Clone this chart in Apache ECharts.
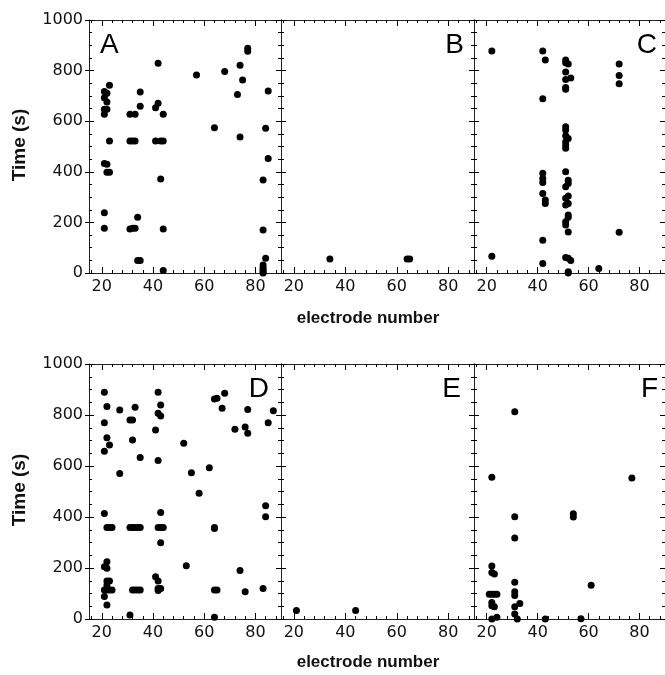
<!DOCTYPE html>
<html>
<head>
<meta charset="utf-8">
<script src="https://cdn.jsdelivr.net/npm/echarts@6/dist/echarts.min.js"></script>
<style>html,body{margin:0;padding:0;background:#fff}#c{width:665px;height:675px}</style>
</head>
<body>
<div id="c"></div>
<script>
// ---- data (electrode number, time in s) ----
const panelA = [
  [23,742],[21,717],[22,710],[21,693],[22,676],[21,647],[22,647],[21,627],
  [23,522],[21,433],[22,430],[22,398],[23,398],[21,238],[21,177],
  [31,627],[33,627],[31,522],[32,522],[33,522],[31,174],[32,177],[33,177],
  [34,220],[35,715],[35,659],[34,49],[35,49],
  [42,829],[41,653],[42,671],[44,627],[41,522],[43,522],[44,522],[43,372],[44,174],[44,10],
  [57,783],[64,574],[68,796],[73,706],[74,821],[75,763],[74,538],[77,888],[77,876],
  [85,719],[84,572],[85,453],[83,368],[83,170],[84,58],[83,32],[83,20],[83,12],[83,5],[83,0]
];
const panelB = [[34,55],[64,55],[65,55]];
const panelC = [
  [22,877],[22,66],[42,877],[43,842],[42,689],[42,394],[42,374],[42,358],[42,314],
  [43,289],[43,275],[42,129],[42,38],
  [51,842],[51,831],[52,826],[51,794],[51,765],[53,771],[51,733],[51,726],
  [51,578],[51,565],[51,542],[52,532],[51,519],[51,506],[51,493],
  [51,400],[52,367],[52,354],[51,341],[52,304],[51,295],[52,275],[51,269],
  [52,229],[52,220],[51,203],[51,190],[52,162],
  [51,61],[52,58],[53,49],[52,5],[52,0],
  [64,18],[72,826],[72,781],[72,748],[72,161]
];
const panelD = [
  [21,889],[22,833],[21,770],[22,711],[23,682],[21,658],[21,414],
  [22,359],[23,359],[24,359],[22,225],[21,205],[22,199],[22,149],[23,149],[22,133],
  [21,114],[22,114],[23,114],[24,114],[21,88],[22,55],
  [27,820],[27,571],[31,780],[32,780],[32,702],[33,830],[35,633],
  [31,359],[32,359],[33,359],[34,359],[35,359],[32,114],[33,114],[34,114],[35,114],[31,16],
  [42,889],[43,839],[42,807],[43,796],[41,741],[42,622],[43,418],
  [42,359],[43,359],[44,359],[43,299],[41,166],[42,149],[42,120],[43,120],[42,112],
  [52,689],[53,209],[55,574],[58,493],[62,593],[64,863],[65,866],
  [64,359],[64,355],[64,114],[65,114],[64,7],[67,826],[68,885],
  [72,744],[76,753],[77,728],[77,822],[74,190],[76,107],
  [83,120],[84,444],[84,401],[85,770],[87,817]
];
const panelE = [[21,33],[44,33]];
const panelF = [
  [31,813],[22,556],[77,553],[31,401],[54,413],[54,400],[31,318],
  [22,208],[22,182],[23,176],[31,144],[61,132],
  [21,97],[22,97],[23,97],[24,97],[31,107],[31,92],
  [22,65],[22,52],[23,48],[33,61],[31,48],[31,20],[24,7],[22,0],[32,0],[43,0],[57,1]
];
const panels = [panelA, panelB, panelC, panelD, panelE, panelF];
const panelLetters = ['A','B','C','D','E','F'];

// ---- axes / ticks ----
const xMin = 15, xMax = 90;
const xLabelStep = 20;   // labelled ticks: 20, 40, 60, 80
const xMinorStep = 4;    // minor ticks: 16, 20, 24, ...
// category positions 15..90 used only to place tick marks on overlay axes
const xSlots = [];
for (let v = xMin; v <= xMax; v++) xSlots.push(String(v));

const gridBoxes = [
  {left: 89,  top: 20,  width: 192, height: 253},
  {left: 281, top: 20,  width: 193, height: 253},
  {left: 474, top: 20,  width: 195, height: 253},
  {left: 89,  top: 364, width: 192, height: 255},
  {left: 281, top: 364, width: 193, height: 255},
  {left: 474, top: 364, width: 195, height: 255}
];

const lineColor = '#222';
const tickColor = '#000';
const majorLen = 6, minorLen = 3;
const tickFont = {fontFamily: 'DejaVu Sans', fontSize: 16, color: '#111'};
const isMajor = (idx, val) => (+val) % xLabelStep === 0;
const isMinor = (idx, val) => (+val) % xMinorStep === 0 && (+val) % xLabelStep !== 0;
const noLine = {show: false, onZero: false};
const tickLine = {color: tickColor, width: 1};

const grid = [], xAxis = [], yAxis = [], series = [];
gridBoxes.forEach((g, i) => {
  grid.push(Object.assign({containLabel: false}, g));
  // data axis (hidden)
  const xDataIdx = xAxis.length;
  xAxis.push({type: 'value', gridIndex: i, min: xMin, max: xMax, show: false,
              axisLine: {onZero: false}, splitLine: {show: false}});
  const catBase = {type: 'category', gridIndex: i, data: xSlots, boundaryGap: false, splitLine: {show: false}};
  ['bottom', 'top'].forEach(pos => {
    // frame line + labels
    xAxis.push(Object.assign({}, catBase, {
      position: pos,
      axisLine: {show: true, onZero: false, lineStyle: {color: lineColor, width: 1}},
      axisTick: {show: false},
      axisLabel: Object.assign({show: pos === 'bottom', margin: 6, interval: isMajor}, tickFont)
    }));
    // inward-pointing ticks: outward ticks drawn from an axis shifted into the plot
    xAxis.push(Object.assign({}, catBase, {
      position: pos, offset: -majorLen,
      axisLine: noLine,
      axisTick: {show: true, inside: false, length: majorLen, interval: isMajor, lineStyle: tickLine},
      axisLabel: {show: false}
    }));
    xAxis.push(Object.assign({}, catBase, {
      position: pos, offset: -minorLen,
      axisLine: noLine,
      axisTick: {show: true, inside: false, length: minorLen, interval: isMinor, lineStyle: tickLine},
      axisLabel: {show: false}
    }));
  });

  const yBase = {type: 'value', gridIndex: i, min: 0, max: 1000, interval: 200, splitLine: {show: false}};
  const yMainIdx = yAxis.length;
  ['left', 'right'].forEach(pos => {
    yAxis.push(Object.assign({}, yBase, {
      position: pos,
      axisLine: {show: true, onZero: false, lineStyle: {color: lineColor, width: 1}},
      axisTick: {show: pos === 'left' && i % 3 === 0, inside: false, length: 4, lineStyle: tickLine},
      axisLabel: Object.assign({show: pos === 'left' && i % 3 === 0, margin: 6, formatter: v => String(v)}, tickFont)
    }));
    yAxis.push(Object.assign({}, yBase, {
      position: pos, offset: -5,
      axisLine: noLine,
      axisTick: {show: true, inside: false, length: 5, lineStyle: tickLine},
      axisLabel: {show: false}
    }));
    yAxis.push(Object.assign({}, yBase, {
      position: pos, offset: -minorLen,
      axisLine: noLine,
      axisTick: {show: false},
      minorTick: {show: true, splitNumber: 4, length: minorLen, lineStyle: tickLine},
      axisLabel: {show: false}
    }));
  });

  series.push({
    type: 'scatter',
    xAxisIndex: xDataIdx,
    yAxisIndex: yMainIdx,
    data: panels[i],
    symbol: 'circle',
    symbolSize: 7,
    itemStyle: {color: '#000', opacity: 1},
    silent: true
  });
});

const letterPos = [
  {x: 100, y: 45, align: 'left'},
  {x: 464, y: 45, align: 'right'},
  {x: 657, y: 45, align: 'right'},
  {x: 269, y: 389, align: 'right'},
  {x: 461, y: 389, align: 'right'},
  {x: 658, y: 389, align: 'right'}
];
const graphic = [];
panelLetters.forEach((t, i) => {
  graphic.push({
    type: 'text', x: letterPos[i].x, y: letterPos[i].y, z: 10,
    style: {text: t, fontFamily: 'Liberation Sans', fontSize: 28, fill: '#000',
            textAlign: letterPos[i].align, textVerticalAlign: 'middle'}
  });
});
[145, 490].forEach(cy => {
  graphic.push({
    type: 'text', x: 20, y: cy, rotation: Math.PI / 2, z: 10,
    style: {text: 'Time (s)', fontFamily: 'Liberation Sans', fontWeight: 'bold', fontSize: 19,
            fill: '#111', textAlign: 'center', textVerticalAlign: 'middle'}
  });
});
[318, 662].forEach(cy => {
  graphic.push({
    type: 'text', x: 368, y: cy, z: 10,
    style: {text: 'electrode number', fontFamily: 'Liberation Sans', fontWeight: 'bold', fontSize: 17,
            fill: '#111', textAlign: 'center', textVerticalAlign: 'middle'}
  });
});

const chart = echarts.init(document.getElementById('c'), null, {renderer: 'canvas'});
chart.setOption({
  animation: false,
  backgroundColor: '#fff',
  grid, xAxis, yAxis, series, graphic
});
</script>
</body>
</html>
